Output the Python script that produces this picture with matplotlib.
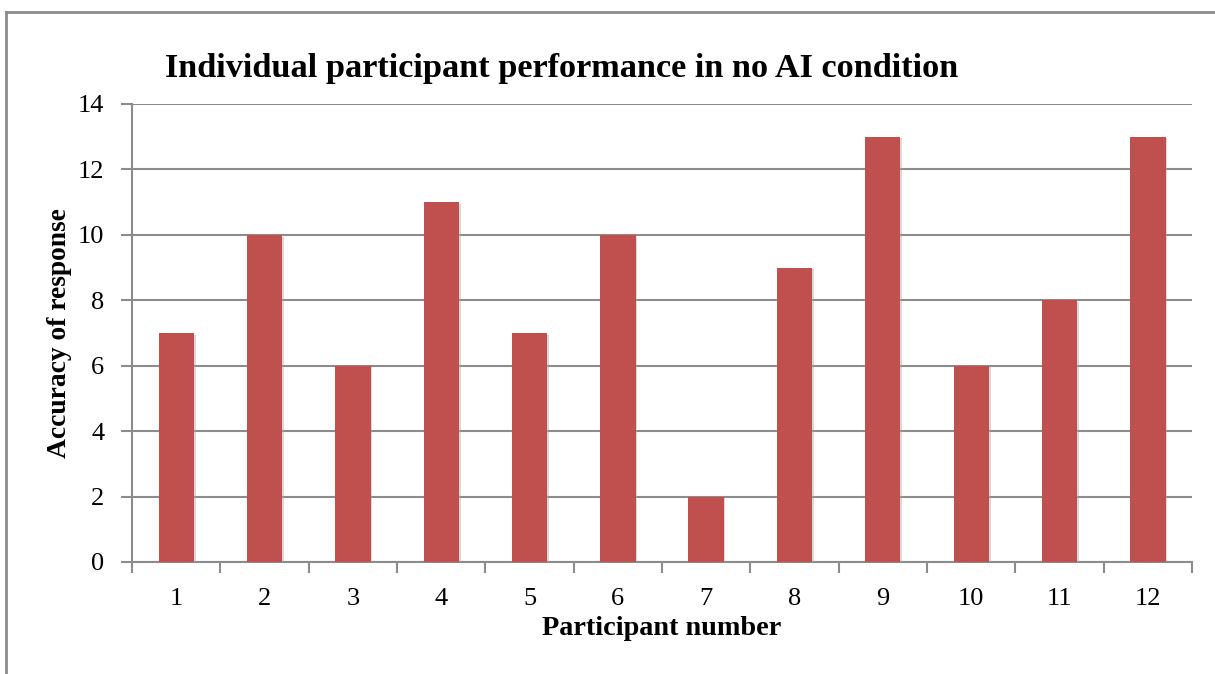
import matplotlib
matplotlib.use("Agg")
import matplotlib.pyplot as plt
import matplotlib.patheffects as pe
from matplotlib.lines import Line2D

participants = ["1", "2", "3", "4", "5", "6", "7", "8", "9", "10", "11", "12"]
accuracy = [7, 10, 6, 11, 7, 10, 2, 9, 13, 6, 8, 13]
y_ticks = [0, 2, 4, 6, 8, 10, 12, 14]

title = "Individual participant performance in no AI condition"
x_label = "Participant number"
y_label = "Accuracy of response"

W, H = 1215, 674
fig = plt.figure(figsize=(W / 100, H / 100), dpi=100)
plt.rcParams["font.family"] = ["Liberation Serif", "DejaVu Serif"]

grid_col = "#8c8c8c"
bar_col = "#C0504D"

# plot area in pixel coordinates
left, right, top, bottom = 132, 1192, 104, 562
ax = fig.add_axes([left / W, 1 - bottom / H, (right - left) / W, (bottom - top) / H])

xs = list(range(len(participants)))
ax.bar(xs, accuracy, width=0.40, color=bar_col, zorder=3,
       path_effects=[pe.SimplePatchShadow(offset=(1.2, -1.2), shadow_rgbFace="#aaaaaa", alpha=0.45),
                     pe.Normal()])

ax.set_xlim(-0.5, len(participants) - 0.5)
ax.set_ylim(0, 14)
ax.set_yticks(y_ticks)
ax.set_yticklabels([str(t) for t in y_ticks])
ax.yaxis.grid(True, color=grid_col, linewidth=1.5, zorder=0)
ax.set_axisbelow(True)

# category labels centred between tick boundaries
ax.set_xticks([x for x in xs], labels=participants)
ax.tick_params(axis="x", length=0, pad=19, labelsize=19)
ax.set_xticks([x - 0.5 for x in xs] + [len(xs) - 0.5], minor=True)
ax.tick_params(axis="x", which="minor", length=8, width=1.5, color=grid_col, direction="out")
ax.tick_params(axis="y", length=8, width=1.5, color=grid_col, pad=12, labelsize=19)

for s in ["top", "right"]:
    ax.spines[s].set_visible(False)
for s in ["left", "bottom"]:
    ax.spines[s].set_color(grid_col)
    ax.spines[s].set_linewidth(1.5)

ax.set_xlabel(x_label, fontsize=20.3, fontweight="bold", labelpad=4)
ax.set_ylabel(y_label, fontsize=19.8, fontweight="bold", labelpad=4)

fig.text(165 / W, 1 - 68 / H, title, fontsize=24.7, fontweight="bold", ha="left", va="center")

# chart frame (top and left edges)
fig.add_artist(Line2D([6 / W, 6 / W], [0, 1 - 12 / H], transform=fig.transFigure,
                      color=grid_col, linewidth=2))
fig.add_artist(Line2D([6 / W, 1], [1 - 12 / H, 1 - 12 / H], transform=fig.transFigure,
                      color=grid_col, linewidth=2))

fig.savefig("out.png", dpi=100)
